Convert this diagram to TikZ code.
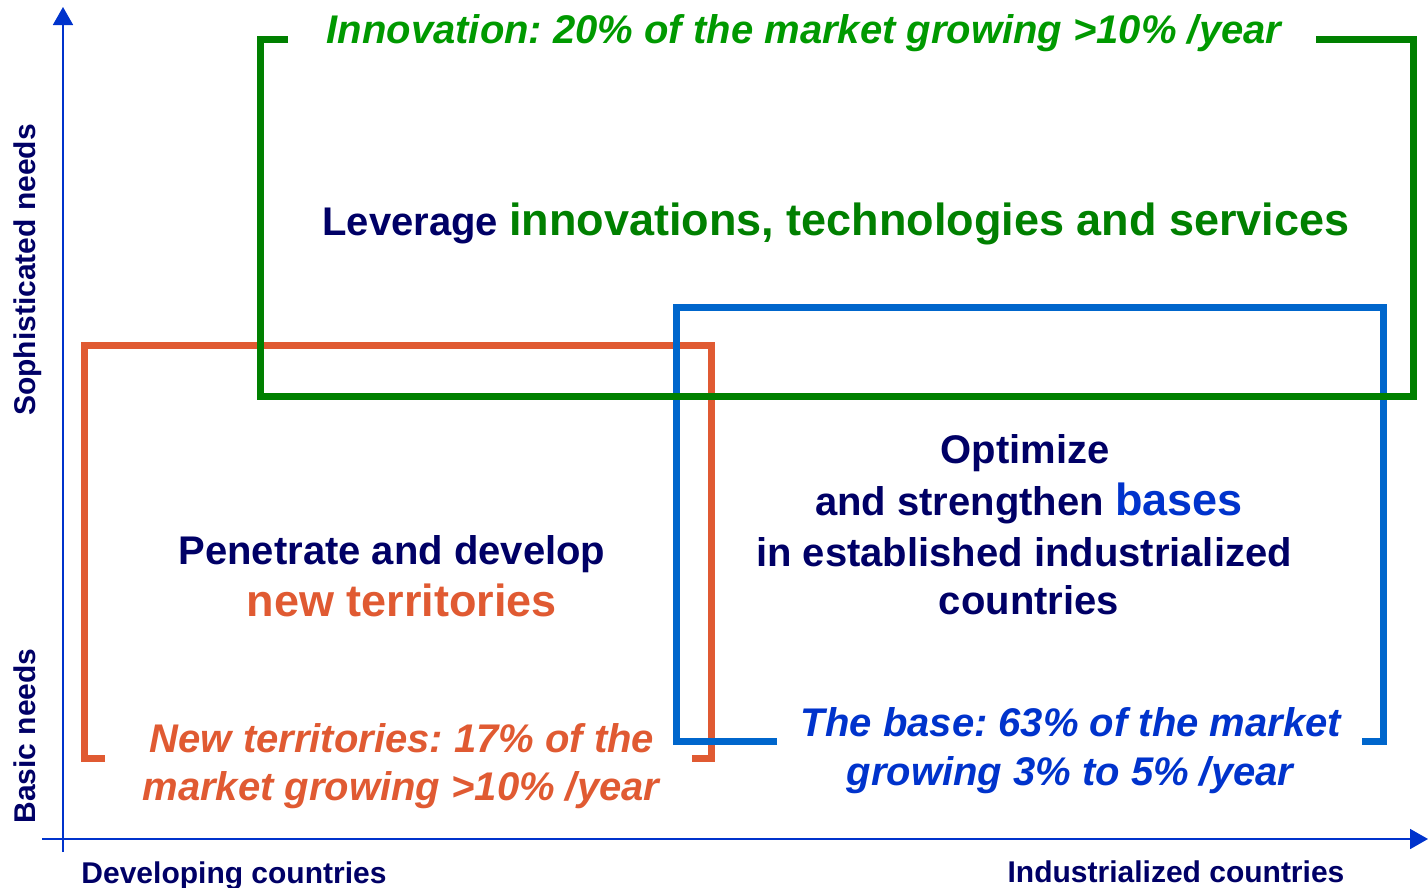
\documentclass[tikz,border=0pt]{standalone}
\usepackage{fontspec}
\setmainfont{Liberation Sans}
\usetikzlibrary{arrows.meta}
\frenchspacing
\definecolor{navy}{RGB}{0,0,102}
\definecolor{gline}{RGB}{0,128,0}
\definecolor{gtext}{RGB}{0,153,0}
\definecolor{orng}{RGB}{224,90,50}
\definecolor{bline}{RGB}{0,102,204}
\definecolor{btext}{RGB}{0,51,204}
\definecolor{axis}{RGB}{0,51,204}
\newcommand{\fs}[1]{\fontsize{#1}{#1}\selectfont}
\tikzset{
  frame/.style={line width=7pt, line join=miter, line cap=butt},
  axisline/.style={draw=axis, line width=1.8pt, -{Triangle[length=18pt,width=20pt]}},
  lbl/.style={anchor=base, inner sep=0pt, font=\bfseries},
  ital/.style={anchor=base, inner sep=0pt, font=\bfseries\itshape},
}
\begin{document}
\begin{tikzpicture}[x=1pt,y=-1pt]
\useasboundingbox (0,0) rectangle (1428,887);
% axes
\coordinate (xs) at (42,839);
\coordinate (xe) at (1428,839);
\coordinate (ys) at (63,852);
\coordinate (ye) at (63,7);
\draw[axisline] (xs) -- (xe);
\draw[axisline] (ys) -- (ye);
% orange frame
\draw[frame, draw=orng] (105,758) -- (84,758) -- (84,345) -- (711,345) -- (711,758) -- (692,758);
% blue frame
\draw[frame, draw=bline] (777,741) -- (676,741) -- (676,307) -- (1383,307) -- (1383,741) -- (1362,741);
% green frame
\draw[frame, draw=gline] (288,39) -- (260,39) -- (260,396) -- (1413,396) -- (1413,39) -- (1316,39);
% texts
\node[ital, text=gtext, font=\bfseries\itshape\fs{40}] (inno) at (804,43) {Innovation: 20\% of the market growing >10\% /year};
\node[lbl, font=\bfseries\fs{40}] (lev) at (836,235) {\color{navy}Leverage {\color{gline}\fs{45}innovations, technologies and services}};
\node[lbl, text=navy, font=\bfseries\fs{40}] (opt1) at (1025,463) {Optimize};
\node[lbl, text=navy, font=\bfseries\fs{40}] (opt2) at (1029,515) {and strengthen {\color{btext}\fs{45}bases}};
\node[lbl, text=navy, font=\bfseries\fs{40}] (opt3) at (1024,566) {in established industrialized};
\node[lbl, text=navy, font=\bfseries\fs{40}] (opt4) at (1029,614) {countries};
\node[lbl, text=navy, font=\bfseries\fs{40}] (pen1) at (392,564) {Penetrate and develop};
\node[lbl, text=orng, font=\bfseries\fs{45}] (pen2) at (402,616) {new territories};
\node[ital, text=orng, font=\bfseries\itshape\fs{40}] (nt1) at (402,752) {New territories: 17\% of the};
\node[ital, text=orng, font=\bfseries\itshape\fs{40}] (nt2) at (401,800) {market growing >10\% /year};
\node[ital, text=btext, font=\bfseries\itshape\fs{40}] (tb1) at (1071,736) {The base: 63\% of the market};
\node[ital, text=btext, font=\bfseries\itshape\fs{40}] (tb2) at (1070,785) {growing 3\% to 5\% /year};
\node[lbl, text=navy, font=\bfseries\fs{30}] (dev) at (234,883) {Developing countries};
\node[lbl, text=navy, font=\bfseries\fs{30}] (ind) at (1176,882) {Industrialized countries};
\node[lbl, text=navy, font=\bfseries\fs{30}, rotate=90] (soph) at (35,270) {Sophisticated needs};
\node[lbl, text=navy, font=\bfseries\fs{30}, rotate=90] (basic) at (35,736) {Basic needs};
\end{tikzpicture}
\end{document}
